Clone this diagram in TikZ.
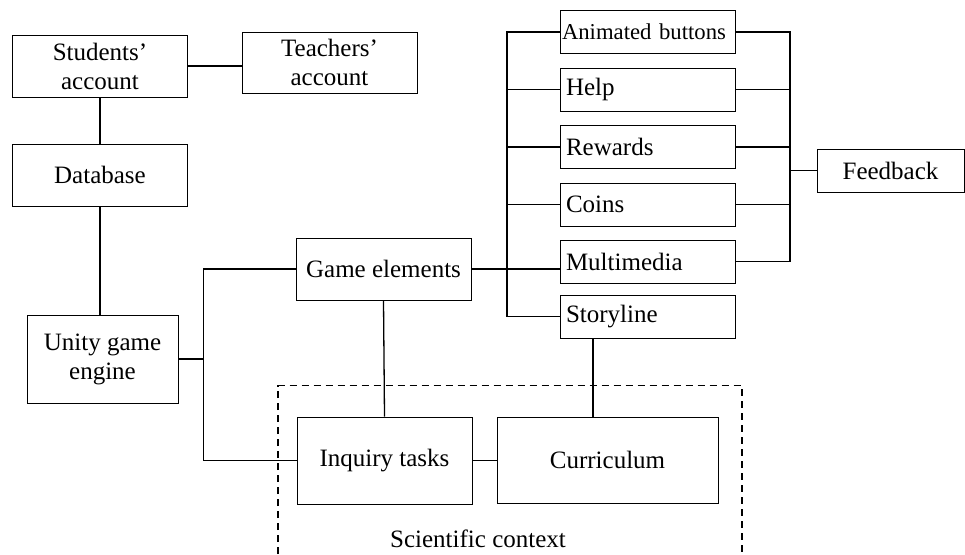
\documentclass[tikz,border=0pt]{standalone}
\usepackage{fontspec}
\setmainfont{Liberation Serif}
\usepackage{tikz}
\usetikzlibrary{positioning}

\tikzset{
  box/.style = {draw, line width=1pt, minimum width=175pt, minimum height=62pt,
                align=center, inner sep=2pt, font=\fontsize{25}{29}\selectfont},
  item/.style = {box, minimum height=43pt, text width=163pt, inner xsep=6pt, align=left},
  link/.style = {line width=1.3pt}
}

\begin{document}
\begin{tikzpicture} [x=1pt, y=-1pt]
    \useasboundingbox (0,0) rectangle (965,554);
    \node [box] (students) at (100,66) {Students’\\account};
    \node [box, minimum height=61pt] (teachers) at (329.5,62.5) {Teachers’\\account};
    \node [box] (database) at (100,175) {Database};
    \node [box, minimum width=151pt, minimum height=88pt] (unity) at (102.5,359) {Unity game\\engine};
    \node [box] (game) at (383.5,269) {Game elements};
    \node [box, minimum height=87pt] (inquiry) at (384.5,460.5) {Inquiry tasks};
    \node [box, minimum width=221pt, minimum height=86pt] (curriculum) at (607.5,460) {Curriculum};
    \node [item, inner xsep=2pt, text width=171pt, font=\fontsize{22.7}{24}\selectfont] (animated) at (647.5,32) {Animated buttons};
    \node [item] (help) at (647.5,89.5) {Help};
    \node [item] (rewards) at (647.5,147) {Rewards};
    \node [item] (coins) at (647.5,204.5) {Coins};
    \node [item] (multimedia) at (647.5,261.5) {Multimedia};
    \node [item] (storyline) at (647.5,316.5) {Storyline};
    \node [box, minimum width=147pt, minimum height=43pt] (feedback) at (890.5,170.5) {Feedback};
    \node [font=\fontsize{25}{29}\selectfont] (context) at (478,539) {Scientific context};

    \coordinate (lbus) at (507,0);
    \coordinate (rbus) at (790,0);

    \draw [dashed, line width=1.1pt, dash pattern=on 7pt off 5pt] (278,554) -- (278,385.5) -- (742,385.5) -- (742,554);

    \draw [link] (students.east) -- (students.east -| teachers.west);
    \draw [link] (students.south) -- (database.north);
    \draw [link] (database.south) -- (database.south |- unity.north);
    \draw [link] (unity.east) -- ++(25,0) coordinate (ue);
    \draw [link] (game.west) -| (ue) |- (inquiry.west);
    \draw [link] (game.south) -- (inquiry.north);
    \draw [link] (inquiry.east) -- (inquiry.east -| curriculum.west);
    \draw [link] ([xshift=-54.5pt]storyline.south) -- ([xshift=-54.5pt]storyline.south |- curriculum.north);
    \draw [link] (game.east) -- (game.east -| multimedia.west);
    \draw [link] (animated.west) -| (lbus |- storyline.west) -- (storyline.west);
    \draw [link] (help.west) -- (help.west -| lbus);
    \draw [link] (rewards.west) -- (rewards.west -| lbus);
    \draw [link] (coins.west) -- (coins.west -| lbus);
    \draw [link] (animated.east) -| (rbus |- multimedia.east) -- (multimedia.east);
    \draw [link] (help.east) -- (help.east -| rbus);
    \draw [link] (rewards.east) -- (rewards.east -| rbus);
    \draw [link] (coins.east) -- (coins.east -| rbus);
    \draw [link] (feedback.west) -- (feedback.west -| rbus);
\end{tikzpicture}
\end{document}
